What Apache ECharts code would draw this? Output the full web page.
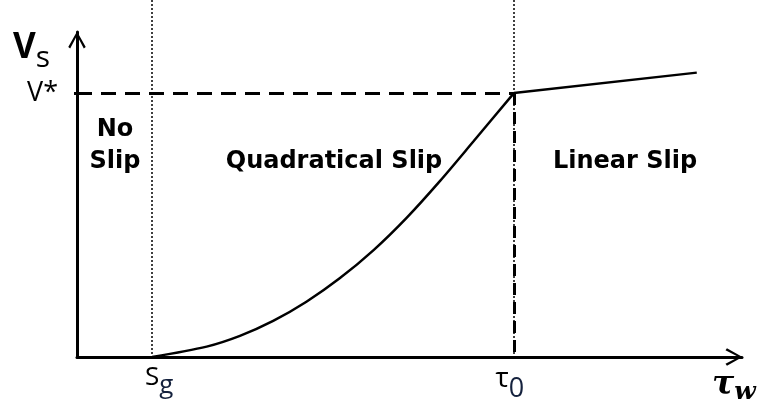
<!DOCTYPE html>
<html>
<head>
<meta charset="utf-8">
<script src="https://cdn.jsdelivr.net/npm/echarts@6/dist/echarts.min.js"></script>
<style>
  html, body { margin: 0; padding: 0; background: #fff; }
  #main { width: 761px; height: 412px; }
</style>
</head>
<body>
<div id="main"></div>
<script>
// slip regimes: no slip / quadratic slip / linear slip
const sg = 11.3;      // slip threshold
const tau0 = 65.7;    // end of quadratic part
const vStar = 81.2;   // V* level

// quadratic part
const tauQuad = [11.3, 19.5, 24.5, 29.5, 34.5, 39.5, 44.6, 49.6, 54.6, 59.6, 65.7];
const vsQuad = [0, 3.2, 6.5, 11.1, 17.0, 24.2, 32.9, 42.9, 54.2, 66.3, 81.2];

// linear part
const tauLin = [65.7, 93.2];
const vsLin = [81.2, 87.5];

const xTicks = [sg, tau0];
const yTicks = [vStar];

const chevron = 'path://M9,0 L18,16 L16,17.5 L9,4 L2,17.5 L0,16 Z';
const sans = '"Open Sans", "Noto Sans", sans-serif';
const heavy = '"DejaVu Sans", sans-serif';

const chart = echarts.init(document.getElementById('main'));

chart.setOption({
  backgroundColor: '#fff',
  animation: false,
  grid: { left: 77, right: 19, top: 32, bottom: 55 },
  xAxis: {
    type: 'value',
    min: 0,
    max: 100,
    splitLine: { show: false },
    axisTick: { show: false },
    axisLine: {
      lineStyle: { color: '#000', width: 3 },
      symbol: ['none', chevron],
      symbolSize: [18, 17],
      symbolOffset: [0, -8]
    },
    axisLabel: {
      customValues: xTicks,
      margin: 8,
      color: '#000',
      formatter: function (v) {
        if (Math.abs(v - sg) < 1e-6) return '{s|S}{sg|g}';
        return '{t|τ}{t0|0}';
      },
      rich: {
        s: { fontFamily: sans, fontSize: 26, color: '#000', padding: [0, 0, 8, 14] },
        sg: { fontFamily: sans, fontSize: 26, color: '#14213d', padding: [8, 0, 0, 0] },
        t: { fontFamily: sans, fontSize: 28, color: '#000', padding: [0, 0, 10, 0] },
        t0: { fontFamily: sans, fontSize: 27, color: '#14213d', padding: [10, 8, 0, 0] }
      }
    }
  },
  yAxis: {
    type: 'value',
    min: 0,
    max: 100,
    splitLine: { show: false },
    axisTick: { show: true, customValues: yTicks, length: 3, lineStyle: { color: '#000', width: 3 } },
    axisLine: {
      lineStyle: { color: '#000', width: 3 },
      symbol: ['none', chevron],
      symbolSize: [18, 17],
      symbolOffset: [0, -8]
    },
    axisLabel: {
      customValues: yTicks,
      margin: 19,
      color: '#000',
      fontFamily: sans,
      fontSize: 27,
      padding: [0, 0, 11, 0],
      formatter: function () { return 'V*'; }
    }
  },
  graphic: [
    {
      type: 'text',
      x: 13, y: 53,
      style: {
        text: '{v|V}{s|s}',
        align: 'left', verticalAlign: 'middle',
        textAlign: 'left', textVerticalAlign: 'middle',
        rich: {
          v: { font: 'bold 35px ' + sans, fill: '#000', color: '#000', padding: [0, 0, 10, 0] },
          s: { font: '30px ' + sans, fill: '#000', color: '#000', padding: [10, 0, 0, 0] }
        }
      }
    },
    {
      type: 'text',
      x: 712, y: 389,
      style: {
        text: '{t|τ}{w|w}',
        align: 'left', verticalAlign: 'middle',
        textAlign: 'left', textVerticalAlign: 'middle',
        rich: {
          t: { font: 'bold italic 33px "DejaVu Serif", serif', fill: '#000', color: '#000', padding: [0, 0, 7, 0] },
          w: { font: 'bold italic 25px "DejaVu Serif", serif', fill: '#000', color: '#000', padding: [7, 0, 0, 0] }
        }
      }
    },
    {
      type: 'text',
      x: 115, y: 146,
      style: {
        text: 'No\nSlip',
        font: 'bold 24px ' + heavy,
        fill: '#000',
        lineHeight: 32,
        align: 'center', verticalAlign: 'middle',
        textAlign: 'center', textVerticalAlign: 'middle'
      }
    },
    {
      type: 'text',
      x: 334, y: 162,
      style: {
        text: 'Quadratical Slip',
        font: 'bold 24px ' + heavy,
        fill: '#000',
        align: 'center', verticalAlign: 'middle',
        textAlign: 'center', textVerticalAlign: 'middle'
      }
    },
    {
      type: 'text',
      x: 625, y: 162,
      style: {
        text: 'Linear Slip',
        font: 'bold 24px ' + heavy,
        fill: '#000',
        align: 'center', verticalAlign: 'middle',
        textAlign: 'center', textVerticalAlign: 'middle'
      }
    }
  ],
  series: [
    {
      name: 'quadratic',
      type: 'line',
      data: tauQuad.map(function (t, i) { return [t, vsQuad[i]]; }),
      smooth: 0.3,
      showSymbol: false,
      clip: false,
      lineStyle: { color: '#000', width: 2.5 },
      markLine: {
        silent: true,
        symbol: 'none',
        label: { show: false },
        data: [
          [{ xAxis: sg, y: 0, lineStyle: { color: '#000', width: 1.5, type: [2, 2] } }, { xAxis: sg, yAxis: 0 }],
          [{ xAxis: tau0, y: 0, lineStyle: { color: '#000', width: 1.5, type: [2, 2] } }, { xAxis: tau0, yAxis: 0 }],
          [{ xAxis: 0, yAxis: vStar, lineStyle: { color: '#000', width: 3, type: [15, 9] } }, { xAxis: tau0, yAxis: vStar }],
          [{ xAxis: tau0, yAxis: vStar, lineStyle: { color: '#000', width: 3, type: [12, 7] } }, { xAxis: tau0, yAxis: 0 }]
        ]
      }
    },
    {
      name: 'linear',
      type: 'line',
      data: tauLin.map(function (t, i) { return [t, vsLin[i]]; }),
      showSymbol: false,
      clip: false,
      lineStyle: { color: '#000', width: 2.5 }
    }
  ]
});
</script>
</body>
</html>
